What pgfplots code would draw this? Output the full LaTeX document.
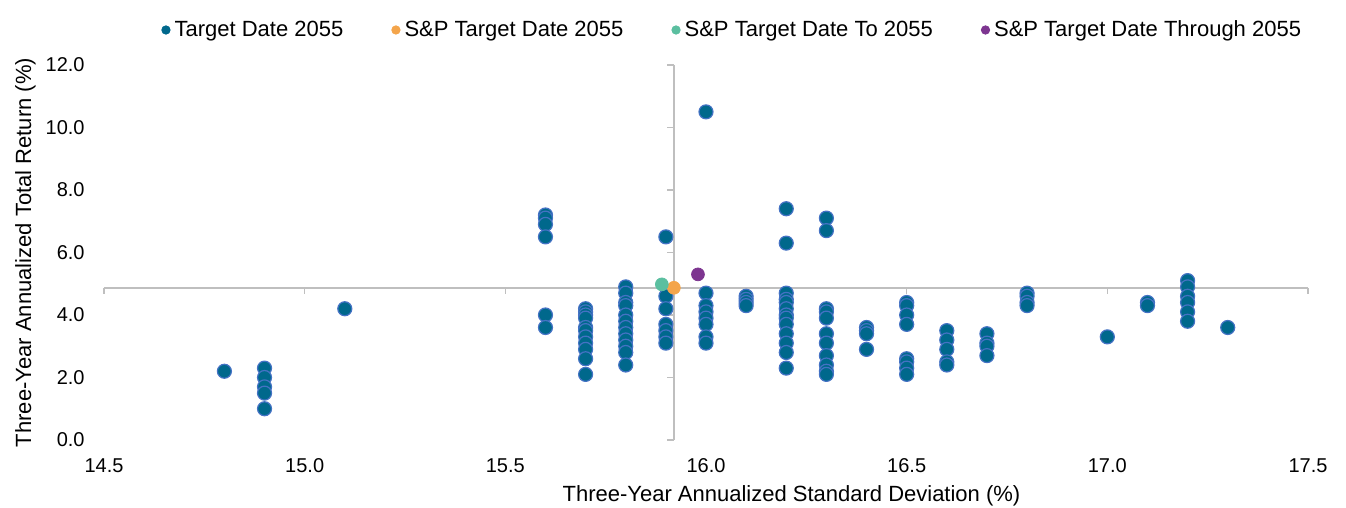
\documentclass[border=0pt]{standalone}
\usepackage{fontspec}
\setmainfont{Liberation Sans}
\usepackage{pgfplots}
\pgfplotsset{compat=1.18}

\definecolor{tdfill}{HTML}{00688C}
\definecolor{tdedge}{HTML}{4472C4}
\definecolor{spfill}{HTML}{F4A54B}
\definecolor{tofill}{HTML}{5BBFA0}
\definecolor{thrfill}{HTML}{7D3590}
\definecolor{axgray}{HTML}{BFBFBF}

\begin{document}
\begin{tikzpicture}
\begin{axis}[
    at={(0,0)}, anchor=south west,
    scale only axis,
    width=602pt, height=187.5pt,
    xmin=14.5, xmax=17.5, ymin=0, ymax=12,
    xtick={14.5,15.0,15.5,16.0,16.5,17.0,17.5},
    ytick={0,2,4,6,8,10,12},
    axis line style={draw=none},
    major tick length=0pt,
    clip=false,
    /pgf/number format/.cd, fixed, fixed zerofill, precision=1, assume math mode=true,
    /pgfplots/.cd,
    tick label style={font=\fontsize{10}{12}\selectfont, inner sep=0pt},
    xticklabel style={anchor=center, yshift=-13pt},
    yticklabel style={anchor=east, xshift=-9.5pt},
    xlabel={Three-Year Annualized Standard Deviation (\%)},
    ylabel={Three-Year Annualized Total Return (\%)},
    every axis x label/.style={at={(axis description cs:0.571,0)}, anchor=base, yshift=-31pt, font=\fontsize{11}{13}\selectfont},
    every axis y label/.style={at={(axis description cs:-0.0606,0.5)}, rotate=90, anchor=base, font=\fontsize{11}{13}\selectfont},
    legend columns=4,
    legend cell align=left,
    legend style={at={(0.0473,1)}, anchor=west, yshift=17.5pt,
        draw=none, fill=none, inner sep=0pt,
        font=\fontsize{11}{13}\selectfont,
        nodes={inner sep=1pt},
        /tikz/every odd column/.append style={column sep=1pt},
        /tikz/every even column/.append style={column sep=23pt}},
]
% crossing lines at the S&P Target Date 2055 point
\draw[axgray, line width=0.75pt] (axis cs:15.92,0) -- (axis cs:15.92,12);
\draw[axgray, line width=0.75pt] (axis cs:14.5,4.87) -- (axis cs:17.5,4.87);
\pgfplotsinvokeforeach{0,2,4,6,8,10,12}{
    \draw[axgray, line width=0.75pt] (axis cs:15.92,#1) -- ++(-3.5pt,0pt);
}
\pgfplotsinvokeforeach{14.5,15.0,15.5,16.0,16.5,17.0,17.5}{
    \draw[axgray, line width=0.75pt] (axis cs:#1,4.87) -- ++(0pt,-3pt);
}

\addlegendimage{legend image code/.code={\fill[tdfill] (0pt,0pt) circle (2.1pt);}}
\addlegendentry{Target Date 2055}
\addlegendimage{legend image code/.code={\fill[spfill] (0pt,0pt) circle (2.1pt);}}
\addlegendentry{S\&P Target Date 2055}
\addlegendimage{legend image code/.code={\fill[tofill] (0pt,0pt) circle (2.1pt);}}
\addlegendentry{S\&P Target Date To 2055}
\addlegendimage{legend image code/.code={\fill[thrfill] (0pt,0pt) circle (2.1pt);}}
\addlegendentry{S\&P Target Date Through 2055}

\addplot[forget plot, only marks, mark=*, mark size=3.5pt,
    mark options={fill=tdfill, draw=tdedge, line width=0.6pt}] table {
x y
14.8 2.2
14.9 2.3
14.9 2.0
14.9 1.7
14.9 1.5
14.9 1.0
15.1 4.2
15.6 7.2
15.6 7.1
15.6 6.9
15.6 6.5
15.6 4.0
15.6 3.6
15.7 4.2
15.7 4.1
15.7 4.0
15.7 3.9
15.7 3.6
15.7 3.5
15.7 3.3
15.7 3.1
15.7 2.9
15.7 2.6
15.7 2.1
15.8 4.9
15.8 4.7
15.8 4.4
15.8 4.3
15.8 4.0
15.8 3.8
15.8 3.6
15.8 3.4
15.8 3.2
15.8 3.0
15.8 2.8
15.8 2.4
15.9 6.5
15.9 4.6
15.9 4.2
15.9 3.7
15.9 3.5
15.9 3.3
15.9 3.1
16.0 10.5
16.0 4.7
16.0 4.3
16.0 4.1
16.0 3.9
16.0 3.7
16.0 3.3
16.0 3.1
16.1 4.6
16.1 4.5
16.1 4.4
16.1 4.3
16.2 7.4
16.2 6.3
16.2 4.7
16.2 4.5
16.2 4.4
16.2 4.2
16.2 4.0
16.2 3.9
16.2 3.7
16.2 3.4
16.2 3.1
16.2 2.8
16.2 2.3
16.3 7.1
16.3 6.7
16.3 4.2
16.3 4.1
16.3 3.9
16.3 3.4
16.3 3.1
16.3 2.7
16.3 2.4
16.3 2.2
16.3 2.1
16.4 3.6
16.4 3.5
16.4 3.4
16.4 2.9
16.5 4.4
16.5 4.3
16.5 4.0
16.5 3.7
16.5 2.6
16.5 2.5
16.5 2.3
16.5 2.1
16.6 3.5
16.6 3.2
16.6 2.9
16.6 2.5
16.6 2.4
16.7 3.4
16.7 3.1
16.7 3.0
16.7 2.7
16.8 4.7
16.8 4.6
16.8 4.4
16.8 4.3
17.0 3.3
17.1 4.4
17.1 4.3
17.2 5.1
17.2 4.9
17.2 4.6
17.2 4.4
17.2 4.1
17.2 3.8
17.3 3.6
};
\addplot[forget plot, only marks, mark=*, mark size=3.2pt,
    mark options={fill=spfill, draw=spfill}] coordinates {(15.92,4.87)};
\addplot[forget plot, only marks, mark=*, mark size=3.2pt,
    mark options={fill=tofill, draw=tofill}] coordinates {(15.89,4.98)};
\addplot[forget plot, only marks, mark=*, mark size=3.2pt,
    mark options={fill=thrfill, draw=thrfill}] coordinates {(15.98,5.30)};
\end{axis}
\pgfresetboundingbox
\useasboundingbox (-52pt,-34pt) rectangle (621pt,220pt);
\end{tikzpicture}
\end{document}
